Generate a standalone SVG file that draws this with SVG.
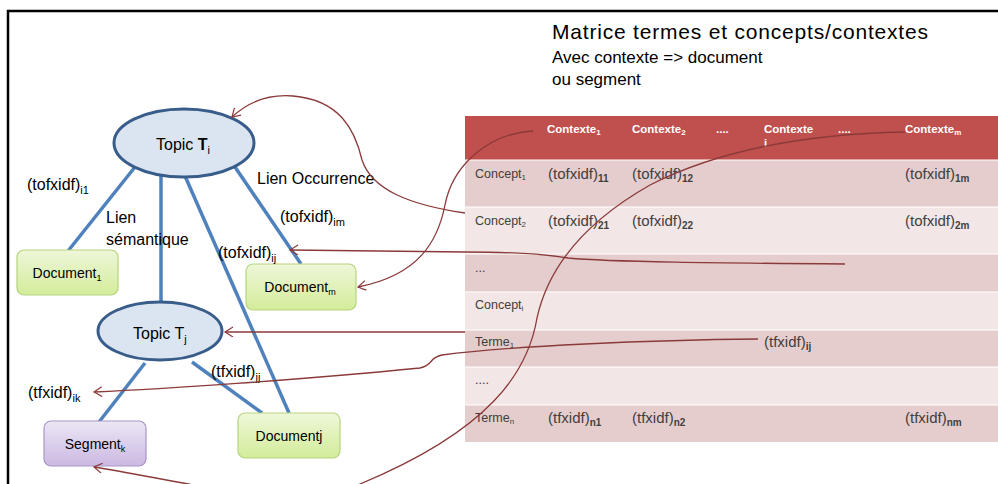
<svg xmlns="http://www.w3.org/2000/svg" width="998" height="484" viewBox="0 0 998 484">
<style>
text{font-family:"Liberation Sans",Arial,sans-serif;fill:#000}
.lbl{font-size:16px}
.doc{font-size:14px}
.blue{stroke:#4f81bd;stroke-width:3.5;fill:none}
.conn{stroke:#8b3a3a;stroke-width:1.3;fill:none;marker-end:url(#arr)}
.topic{fill:#dbe5f1;stroke:#385d8a;stroke-width:3}
.green{fill:url(#gg);stroke:#b5d47f;stroke-width:1.2}
.purple{fill:url(#pg);stroke:#a895c8;stroke-width:1.2}
.hd{font-size:11.5px;font-weight:bold;fill:#fff}
.cl{font-size:12.5px;fill:#404040}
.cv{font-size:15px;fill:#404040}
</style>
<defs>
<linearGradient id="gg" x1="0" y1="0" x2="0" y2="1"><stop offset="0" stop-color="#eef7d9"/><stop offset="1" stop-color="#d3ec9a"/></linearGradient>
<linearGradient id="pg" x1="0" y1="0" x2="0" y2="1"><stop offset="0" stop-color="#ece6f4"/><stop offset="1" stop-color="#cbb9e3"/></linearGradient>
<marker id="arr" markerWidth="12" markerHeight="12" refX="9" refY="5" orient="auto" markerUnits="userSpaceOnUse">
<path d="M1,0 L9,5 L1,10" fill="none" stroke="#8b3a3a" stroke-width="1.2"/>
</marker>
</defs>
<rect width="998" height="484" fill="#fff"/>
<path d="M8,484 V11 H998" fill="none" stroke="#000" stroke-width="2.5"/>

<g id="title">
<text x="552" y="39" font-size="21" textLength="376" lengthAdjust="spacing">Matrice termes et concepts/contextes</text>
<text x="552" y="63" font-size="17">Avec contexte =&gt; document</text>
<text x="552" y="85" font-size="17">ou segment</text>
</g>

<g id="table">
<rect x="465" y="116" width="533" height="44" fill="#c0504d"/>
<rect x="465" y="160" width="533" height="47" fill="#e6cdcd"/>
<rect x="465" y="207" width="533" height="47" fill="#f2e6e6"/>
<rect x="465" y="254" width="533" height="38" fill="#e6cdcd"/>
<rect x="465" y="292" width="533" height="38" fill="#f2e6e6"/>
<rect x="465" y="330" width="533" height="37" fill="#e6cdcd"/>
<rect x="465" y="367" width="533" height="38" fill="#f2e6e6"/>
<rect x="465" y="405" width="533" height="37" fill="#e6cdcd"/>
<g stroke="#fff" stroke-width="1">
<line x1="465" y1="160" x2="998" y2="160"/><line x1="465" y1="207" x2="998" y2="207"/>
<line x1="465" y1="254" x2="998" y2="254"/><line x1="465" y1="292" x2="998" y2="292"/>
<line x1="465" y1="330" x2="998" y2="330"/><line x1="465" y1="367" x2="998" y2="367"/>
<line x1="465" y1="405" x2="998" y2="405"/>
</g>
<text class="hd" x="547" y="133">Contexte<tspan font-size="8" dy="2">1</tspan></text>
<text class="hd" x="632" y="133">Contexte<tspan font-size="8" dy="2">2</tspan></text>
<text class="hd" x="716" y="133">....</text>
<text class="hd" x="764" y="133">Contexte</text>
<text class="hd" x="764" y="147" font-size="8">i</text>
<text class="hd" x="838" y="133">....</text>
<text class="hd" x="905" y="133">Contexte<tspan font-size="8" dy="2">m</tspan></text>

<text class="cl" x="475" y="178">Concept<tspan font-size="8" dy="2">1</tspan></text>
<text class="cv" x="548" y="179">(tofxidf)<tspan font-size="10" font-weight="bold" dy="3">11</tspan></text>
<text class="cv" x="632" y="179">(tofxidf)<tspan font-size="10" font-weight="bold" dy="3">12</tspan></text>
<text class="cv" x="905" y="179">(tofxidf)<tspan font-size="10" font-weight="bold" dy="3">1m</tspan></text>

<text class="cl" x="475" y="225">Concept<tspan font-size="8" dy="2">2</tspan></text>
<text class="cv" x="548" y="226">(tofxidf)<tspan font-size="10" font-weight="bold" dy="3">21</tspan></text>
<text class="cv" x="632" y="226">(tofxidf)<tspan font-size="10" font-weight="bold" dy="3">22</tspan></text>
<text class="cv" x="905" y="226">(tofxidf)<tspan font-size="10" font-weight="bold" dy="3">2m</tspan></text>

<text class="cl" x="475" y="272" font-size="10">...</text>
<text class="cl" x="475" y="309">Concept<tspan font-size="8" dy="2">i</tspan></text>
<text class="cl" x="475" y="346">Terme<tspan font-size="8" dy="2">1</tspan></text>
<text class="cv" x="764" y="347">(tfxidf)<tspan font-size="10" font-weight="bold" dy="3">ij</tspan></text>
<text class="cl" x="475" y="384" font-size="10">....</text>
<text class="cl" x="475" y="422">Terme<tspan font-size="8" dy="2">n</tspan></text>
<text class="cv" x="548" y="423">(tfxidf)<tspan font-size="10" font-weight="bold" dy="3">n1</tspan></text>
<text class="cv" x="632" y="423">(tfxidf)<tspan font-size="10" font-weight="bold" dy="3">n2</tspan></text>
<text class="cv" x="905" y="423">(tfxidf)<tspan font-size="10" font-weight="bold" dy="3">nm</tspan></text>
</g>

<g id="links">
<line class="blue" x1="135" y1="167" x2="68" y2="251"/>
<line class="blue" x1="161" y1="176" x2="161" y2="302"/>
<line class="blue" x1="185" y1="176" x2="289" y2="413"/>
<line class="blue" x1="235" y1="167" x2="301" y2="264"/>
<line class="blue" x1="145" y1="363" x2="99" y2="422"/>
<line class="blue" x1="192" y1="362" x2="262" y2="413"/>
</g>

<g id="topic-ti">
<ellipse class="topic" cx="184" cy="143" rx="70" ry="34"/>
<text class="lbl" x="156" y="150">Topic <tspan font-weight="bold">T</tspan><tspan font-size="11" dy="4">i</tspan></text>
</g>
<g id="topic-tj">
<ellipse class="topic" cx="160" cy="331" rx="62" ry="29"/>
<text class="lbl" x="133" y="339">Topic T<tspan font-size="11" dy="4">j</tspan></text>
</g>
<g id="document1">
<rect class="green" x="17" y="250" width="101" height="45" rx="7"/>
<text class="doc" x="67" y="278" text-anchor="middle">Document<tspan font-size="9" dy="3">1</tspan></text>
</g>
<g id="documentm">
<rect class="green" x="246" y="264" width="110" height="46" rx="7"/>
<text class="doc" x="300" y="292" text-anchor="middle">Document<tspan font-size="9" dy="3">m</tspan></text>
</g>
<g id="documentj">
<rect class="green" x="238" y="413" width="102" height="45" rx="7"/>
<text class="doc" x="289" y="441" text-anchor="middle">Documentj</text>
</g>
<g id="segmentk">
<rect class="purple" x="44" y="421" width="102" height="45" rx="7"/>
<text class="doc" x="95" y="449" text-anchor="middle">Segment<tspan font-size="9" dy="3">k</tspan></text>
</g>

<g id="labels">
<text class="lbl" x="27" y="190">(tofxidf)<tspan font-size="11" dy="4">i1</tspan></text>
<text class="lbl" x="106" y="223">Lien</text>
<text class="lbl" x="106" y="245">sémantique</text>
<text class="lbl" x="257" y="184">Lien Occurrence</text>
<text class="lbl" x="280" y="222">(tofxidf)<tspan font-size="11" dy="4">im</tspan></text>
<text class="lbl" x="218" y="258">(tofxidf)<tspan font-size="11" dy="4">ij</tspan></text>
<text class="lbl" x="211" y="377">(tfxidf)<tspan font-size="11" dy="4">jj</tspan></text>
<text class="lbl" x="28" y="398">(tfxidf)<tspan font-size="11" dy="4">ik</tspan></text>
</g>

<g id="connectors">
<path class="conn" d="M465,213 C410,205 372,190 362,160 C355,130 340,100 293,96 C268,94 247,103 232,117"/>
<path class="conn" d="M533,131 C485,134 452,168 445,205 C438,240 420,275 358,287"/>
<path class="conn" d="M845,264 C720,263 610,262 568,258 C545,254 520,252 465,252 L290,250"/>
<path class="conn" d="M465,332 L225,332"/>
<path class="conn" d="M758,339 C650,340 510,346 442,355 C428,358 434,365 420,368 C300,380 160,389 94,392"/>
<path class="conn" d="M905,132 C800,134 715,152 650,185 C585,222 548,268 537,318 C528,372 490,430 360,484 C330,496 300,505 270,500 C240,495 210,488 183,483 C150,477 120,471 94,467"/>
</g>
</svg>
